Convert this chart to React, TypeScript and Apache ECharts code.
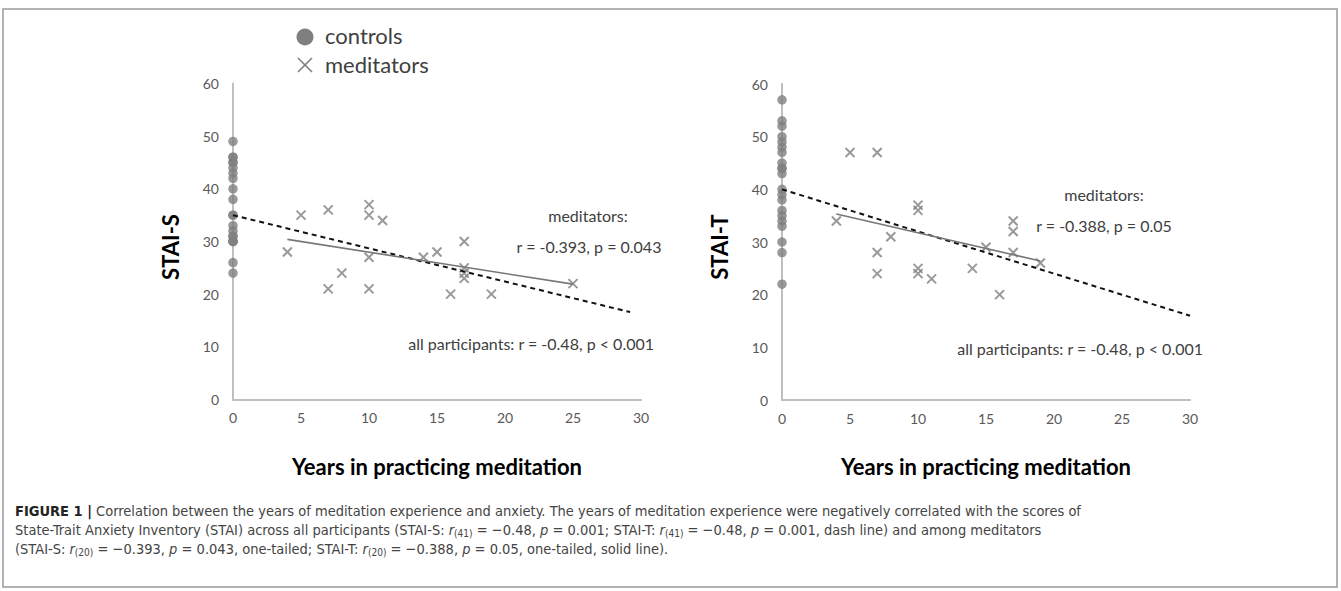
import React, { useEffect, useRef } from 'react';
import * as echarts from 'echarts';

// ---------- data ----------
const controlsS = [49, 46, 46, 45, 45, 44, 43, 42, 40, 38, 35, 35, 33, 32, 31, 31, 30, 30, 30, 26, 24];
const medYearsS = [4, 5, 7, 7, 8, 10, 10, 10, 10, 11, 14, 15, 16, 17, 17, 17, 17, 19, 25];
const medS = [28, 35, 36, 21, 24, 37, 35, 27, 21, 34, 27, 28, 20, 30, 25, 24, 23, 20, 22];
const fitAllXS = [0, 29.2];
const fitAllYS = [35, 16.6];
const fitMedXS = [4, 25];
const fitMedYS = [30.4, 21.9];

const controlsT = [57, 53, 52, 50, 49, 48, 47, 45, 44, 44, 43, 40, 39, 38, 36, 35, 34, 33, 30, 28, 22];
const medYearsT = [5, 7, 4, 7, 7, 8, 10, 10, 10, 10, 11, 14, 15, 17, 17, 17, 19, 16];
const medT = [47, 47, 34, 28, 24, 31, 37, 36, 25, 24, 23, 25, 29, 34, 32, 28, 26, 20];
const fitAllXT = [0, 30];
const fitAllYT = [40, 16];
const fitMedXT = [4, 19];
const fitMedYT = [35.3, 26.4];

const xMin = 0, xMax = 30, xStep = 5;
const yMin = 0, yMax = 60, yStep = 10;

const MARK = '#7F7F7F';
const FONT = 'Lato, "Open Sans", sans-serif';
const CAP_FONT = '"Liberation Sans Narrow", "DejaVu Sans Condensed", "Liberation Sans", sans-serif';

const pairs = (xs: number[], ys: number[]) => xs.map((x, i) => [x, ys[i]]);

function xAxis(gridIndex: number) {
  return {
    type: 'value', gridIndex, min: xMin, max: xMax, interval: xStep,
    axisLine: { show: true, onZero: false, lineStyle: { color: '#BFBFBF', width: 2 } },
    axisTick: { show: false }, splitLine: { show: false },
    axisLabel: { color: '#595959', fontSize: 14, fontFamily: FONT, margin: 11 },
  };
}
function yAxis(gridIndex: number) {
  return {
    type: 'value', gridIndex, min: yMin, max: yMax, interval: yStep,
    axisLine: { show: true, onZero: false, lineStyle: { color: '#BFBFBF', width: 2 } },
    axisTick: { show: false }, splitLine: { show: false },
    axisLabel: { color: '#595959', fontSize: 14, fontFamily: FONT, margin: 14 },
  };
}

const XSYM = 'path://M0 0L10 10M10 0L0 10';

function seriesFor(idx: number, controls: number[], mx: number[], my: number[], ax: number[], ay: number[], bx: number[], by: number[]) {
  return [
    {
      type: 'scatter', xAxisIndex: idx, yAxisIndex: idx, clip: false,
      symbol: 'circle', symbolSize: 9.5, itemStyle: { color: MARK },
      data: controls.map((v) => [0, v]), z: 3,
    },
    {
      type: 'scatter', xAxisIndex: idx, yAxisIndex: idx, clip: false,
      symbol: XSYM, symbolSize: 9,
      itemStyle: { color: 'rgba(0,0,0,0)', borderColor: MARK, borderWidth: 2 },
      data: pairs(mx, my), z: 3,
    },
    {
      type: 'line', xAxisIndex: idx, yAxisIndex: idx, symbol: 'none', z: 4,
      lineStyle: { color: '#111', width: 2, type: [5, 4] },
      data: pairs(ax, ay),
    },
    {
      type: 'line', xAxisIndex: idx, yAxisIndex: idx, symbol: 'none', z: 4,
      lineStyle: { color: '#777', width: 1.6 },
      data: pairs(bx, by),
    },
  ];
}

const txt = (x: number, y: number, text: string, opts: any = {}) => ({
  type: 'text', x, y, silent: true, rotation: opts.rotation || 0,
  style: {
    text, fill: opts.fill || '#404040', font: opts.font || `16px ${FONT}`,
    align: opts.align || 'center', verticalAlign: 'middle', rich: opts.rich,
  },
});

const CAP_SIZE = 14.5;
const capRich = {
  b: { fontWeight: 'bold', fontSize: CAP_SIZE, fontFamily: CAP_FONT, fill: '#222' },
  i: { fontStyle: 'italic', fontSize: CAP_SIZE, fontFamily: CAP_FONT, fill: '#444' },
  s: { fontSize: 10, fontFamily: CAP_FONT, fill: '#444', padding: [7, 0, 0, 0] },
};

const capLine1 = '{b|FIGURE 1 |} Correlation between the years of meditation experience and anxiety. The years of meditation experience were negatively correlated with the scores of';
const capLine2 = 'State-Trait Anxiety Inventory (STAI) across all participants (STAI-S: {i|r}{s|(41)} = \u22120.48, {i|p} = 0.001; STAI-T: {i|r}{s|(41)} = \u22120.48, {i|p} = 0.001, dash line) and among meditators';
const capLine3 = '(STAI-S: {i|r}{s|(20)} = \u22120.393, {i|p} = 0.043, one-tailed; STAI-T: {i|r}{s|(20)} = \u22120.388, {i|p} = 0.05, one-tailed, solid line).';

export default function App() {
  const ref = useRef<HTMLDivElement>(null);
  useEffect(() => {
    document.body.style.margin = '0';
    const chart = echarts.init(ref.current!, null, { renderer: 'svg' });
    const option: any = {
      animation: false,
      backgroundColor: '#fff',
      grid: [
        { left: 233, top: 83.5, width: 408, height: 316 },
        { left: 782, top: 84, width: 408, height: 316 },
      ],
      xAxis: [xAxis(0), xAxis(1)],
      yAxis: [yAxis(0), yAxis(1)],
      series: [
        ...seriesFor(0, controlsS, medYearsS, medS, fitAllXS, fitAllYS, fitMedXS, fitMedYS),
        ...seriesFor(1, controlsT, medYearsT, medT, fitAllXT, fitAllYT, fitMedXT, fitMedYT),
      ],
      graphic: [
        { type: 'rect', shape: { x: 3, y: 9, width: 1334, height: 578 }, style: { fill: 'none', stroke: '#9A9A9A', lineWidth: 1.5 }, silent: true },
        // legend
        { type: 'circle', shape: { cx: 305, cy: 37, r: 8.5 }, style: { fill: MARK }, silent: true },
        { type: 'line', shape: { x1: 298, y1: 58, x2: 312, y2: 72 }, style: { stroke: MARK, lineWidth: 1.6 }, silent: true },
        { type: 'line', shape: { x1: 312, y1: 58, x2: 298, y2: 72 }, style: { stroke: MARK, lineWidth: 1.6 }, silent: true },
        txt(325, 35, 'controls', { align: 'left', font: `22px ${FONT}` }),
        txt(325, 64, 'meditators', { align: 'left', font: `22px ${FONT}` }),
        // axis titles
        txt(170, 247, 'STAI-S', { rotation: Math.PI / 2, fill: '#000', font: `bold 22px ${FONT}` }),
        txt(719, 247, 'STAI-T', { rotation: Math.PI / 2, fill: '#000', font: `bold 22px ${FONT}` }),
        txt(437, 466, 'Years in practicing meditation', { fill: '#000', font: `bold 22px ${FONT}` }),
        txt(986, 466, 'Years in practicing meditation', { fill: '#000', font: `bold 22px ${FONT}` }),
        // annotations
        txt(588, 215, 'meditators:'),
        txt(589, 246, 'r = -0.393, p = 0.043'),
        txt(654, 343, 'all participants: r = -0.48, p < 0.001', { align: 'right' }),
        txt(1104, 194, 'meditators:'),
        txt(1104, 225, 'r = -0.388, p = 0.05'),
        txt(1203, 348, 'all participants: r = -0.48, p < 0.001', { align: 'right' }),
        // caption
        txt(15, 511, capLine1, { align: 'left', font: `${CAP_SIZE}px ${CAP_FONT}`, fill: '#444', rich: capRich }),
        txt(15, 530, capLine2, { align: 'left', font: `${CAP_SIZE}px ${CAP_FONT}`, fill: '#444', rich: capRich }),
        txt(15, 549, capLine3, { align: 'left', font: `${CAP_SIZE}px ${CAP_FONT}`, fill: '#444', rich: capRich }),
      ],
    };
    chart.setOption(option);
    return () => chart.dispose();
  }, []);
  return <div ref={ref} style={{ width: 1341, height: 591 }} />;
}
